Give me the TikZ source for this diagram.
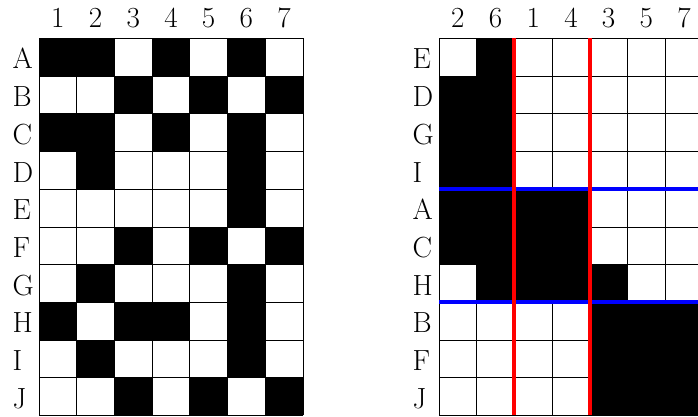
\documentclass[tikz,border=0pt]{standalone}
\usepackage{tikz}
\usetikzlibrary{positioning}

\tikzset{
    gridline/.style={draw=black, line width=0.6pt},
    redcut/.style={draw=red, line width=3pt},
    bluecut/.style={draw=blue, line width=3pt},
    collabel/.style={inner sep=0pt, anchor=base},
    rowlabel/.style={inner sep=0pt, anchor=base west}
}

\begin{document}
\begin{tikzpicture}[x=1cm, y=-1cm, font=\fontsize{22}{26}\selectfont]
    \clip (-1.035,-1.02) rectangle (17.48,10.04);
    % original matrix
    \foreach \c/\r in {1/1,2/1,4/1,6/1, 3/2,5/2,7/2, 1/3,2/3,4/3,6/3, 2/4,6/4, 6/5,
                       3/6,5/6,7/6, 2/7,6/7, 1/8,3/8,4/8,6/8, 2/9,6/9, 3/10,5/10,7/10}
        \fill[black] (\c-1,\r-1) rectangle (\c,\r);
    \draw[gridline] (0,0) grid (7,10);
    \foreach \n [count=\i] in {1,...,7}
        \node[collabel] (lc\n) at (\i-0.5,-0.3) {\n};
    \foreach \r [count=\i] in {A,...,J}
        \node[rowlabel] (lr\r) at (-0.71,\i-0.19) {\r};
    % reordered matrix
    \begin{scope}[xshift=10.61cm]
        \foreach \c/\r in {2/1, 1/2,2/2, 1/3,2/3, 1/4,2/4, 1/5,2/5,3/5,4/5, 1/6,2/6,3/6,4/6,
                           2/7,3/7,4/7,5/7, 5/8,6/8,7/8, 5/9,6/9,7/9, 5/10,6/10,7/10}
            \fill[black] (\c-1,\r-1) rectangle (\c,\r);
        \draw[gridline] (0,0) grid (7,10);
        \foreach \n [count=\i] in {2,6,1,4,3,5,7}
            \node[collabel] (rc\n) at (\i-0.5,-0.3) {\n};
        \foreach \r [count=\i] in {E,D,G,I,A,C,H,B,F,J}
            \node[rowlabel] (rr\r) at (-0.71,\i-0.19) {\r};
        \coordinate (b1) at (0,4);
        \coordinate (b2) at (7,4);
        \coordinate (b3) at (0,7);
        \coordinate (b4) at (7,7);
        \coordinate (r1) at (2,0);
        \coordinate (r2) at (2,10);
        \coordinate (r3) at (4,0);
        \coordinate (r4) at (4,10);
        \draw[bluecut] (b1) -- (b2);
        \draw[bluecut] (b3) -- (b4);
        \draw[redcut] (r1) -- (r2);
        \draw[redcut] (r3) -- (r4);
    \end{scope}
\end{tikzpicture}
\end{document}
